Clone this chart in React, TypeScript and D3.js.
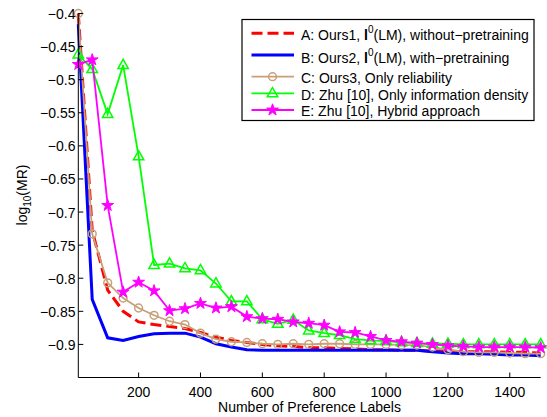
import React from "react";
import * as d3 from "d3";

const xs = [5, 50, 100, 150, 200, 250, 300, 350, 400, 450, 500, 550, 600, 650, 700, 750, 800, 850, 900, 950, 1000, 1050, 1100, 1150, 1200, 1250, 1300, 1350, 1400, 1450, 1500];

const seriesA = [-0.400, -0.728, -0.818, -0.850, -0.866, -0.870, -0.873, -0.876, -0.882, -0.889, -0.894, -0.897, -0.900, -0.902, -0.903, -0.905, -0.905, -0.906, -0.907, -0.908, -0.908, -0.909, -0.909, -0.910, -0.910, -0.911, -0.911, -0.911, -0.912, -0.912, -0.913];
const seriesB = [-0.416, -0.832, -0.890, -0.894, -0.888, -0.884, -0.883, -0.883, -0.889, -0.899, -0.904, -0.908, -0.909, -0.909, -0.909, -0.909, -0.909, -0.909, -0.909, -0.909, -0.909, -0.909, -0.909, -0.911, -0.913, -0.914, -0.914, -0.915, -0.916, -0.916, -0.917];
const seriesC = [-0.400, -0.733, -0.807, -0.830, -0.845, -0.856, -0.865, -0.870, -0.883, -0.892, -0.896, -0.897, -0.899, -0.900, -0.899, -0.900, -0.899, -0.899, -0.900, -0.900, -0.900, -0.901, -0.901, -0.904, -0.908, -0.911, -0.912, -0.912, -0.913, -0.914, -0.914];
const seriesD = [-0.462, -0.484, -0.552, -0.478, -0.616, -0.780, -0.778, -0.785, -0.788, -0.808, -0.835, -0.835, -0.862, -0.869, -0.863, -0.879, -0.883, -0.886, -0.892, -0.894, -0.895, -0.897, -0.898, -0.899, -0.899, -0.900, -0.900, -0.900, -0.900, -0.900, -0.900];
const seriesE = [-0.477, -0.470, -0.690, -0.821, -0.806, -0.819, -0.849, -0.846, -0.838, -0.845, -0.843, -0.858, -0.861, -0.862, -0.866, -0.868, -0.871, -0.881, -0.882, -0.888, -0.894, -0.896, -0.898, -0.900, -0.902, -0.903, -0.904, -0.904, -0.904, -0.904, -0.905];

const xTicks = [200, 400, 600, 800, 1000, 1200, 1400];
const yTicks = [-0.9, -0.85, -0.8, -0.75, -0.7, -0.65, -0.6, -0.55, -0.5, -0.45, -0.4];

const W = 547;
const H = 417;
const FONT = "'Liberation Sans', Arial, Helvetica, sans-serif";

const RED = "#ff0000";
const BLUE = "#0000ff";
const TAN = "#c8a078";
const GREEN = "#00ff00";
const MAGENTA = "#ff00ff";

function starPath(R: number) {
  const r = R * 0.382;
  const pts: string[] = [];
  for (let i = 0; i < 10; i++) {
    const rad = i % 2 === 0 ? R : r;
    const a = -Math.PI / 2 + (i * Math.PI) / 5;
    pts.push(`${(rad * Math.cos(a)).toFixed(2)},${(rad * Math.sin(a)).toFixed(2)}`);
  }
  return "M" + pts.join("L") + "Z";
}
const TRI = "M0,-5.8L5.2,3.4L-5.2,3.4Z";
const STAR = starPath(6.2);

export default function App() {
  const x = d3.scaleLinear().domain([5, 1500]).range([78.3, 540.7]);
  const y = d3.scaleLinear().domain([-0.95, -0.4]).range([377.5, 13.5]);
  const line = d3
    .line<number>()
    .x((_, i) => x(xs[i]))
    .y((d) => y(d));
  const fmt = (v: number) => d3.format(".2~f")(v).replace("-", "\u2212");

  const x0 = x.range()[0];
  const x1 = x.range()[1];
  const yb = y(-0.95);
  const yt = y(-0.4);

  const lgX0 = 251.5;
  const lgX1 = 294;
  const lgMid = 272.5;
  const rows = [33.3, 55, 76.7, 93.3, 110];
  const base = [40, 62.5, 82.5, 100, 116];

  return (
    <svg width={W} height={H} style={{ position: "absolute", left: 0, top: 0, background: "#fff" }} fontFamily={FONT}>
      <rect x={0} y={0} width={W} height={H} fill="#fff" />
      {/* series */}
      <path d={line(seriesA) || ""} fill="none" stroke={RED} strokeWidth={3} strokeDasharray="11,5" />
      <path d={line(seriesB) || ""} fill="none" stroke={BLUE} strokeWidth={3} />
      <path d={line(seriesC) || ""} fill="none" stroke={TAN} strokeWidth={1.8} />
      {seriesC.map((d, i) => (
        <circle key={"c" + i} cx={x(xs[i])} cy={y(d)} r={3.9} fill="none" stroke={TAN} strokeWidth={1.5} />
      ))}
      <path d={line(seriesD) || ""} fill="none" stroke={GREEN} strokeWidth={1.8} />
      {seriesD.map((d, i) => (
        <path key={"d" + i} d={TRI} transform={`translate(${x(xs[i])},${y(d)})`} fill="none" stroke={GREEN} strokeWidth={1.5} />
      ))}
      <path d={line(seriesE) || ""} fill="none" stroke={MAGENTA} strokeWidth={1.8} />
      {seriesE.map((d, i) => (
        <path key={"e" + i} d={STAR} transform={`translate(${x(xs[i])},${y(d)})`} fill={MAGENTA} stroke={MAGENTA} strokeWidth={1} />
      ))}

      {/* axes */}
      <line x1={x0} y1={yt} x2={x0} y2={yb} stroke="#000" strokeWidth={1} />
      <line x1={x0} y1={yb} x2={x1} y2={yb} stroke="#000" strokeWidth={1} />
      {xTicks.map((t) => (
        <g key={"xt" + t}>
          <line x1={x(t)} x2={x(t)} y1={yb} y2={yb - 5} stroke="#000" />
          <text x={x(t)} y={396.5} fontSize={14} textAnchor="middle" fill="#000">
            {t}
          </text>
        </g>
      ))}
      {yTicks.map((t) => (
        <g key={"yt" + t}>
          <line x1={x0} x2={x0 + 5} y1={y(t)} y2={y(t)} stroke="#000" />
          <text x={75.5} y={y(t) + 5.5} fontSize={14} textAnchor="end" fill="#000">
            {fmt(t)}
          </text>
        </g>
      ))}
      <text x={(x0 + x1) / 2} y={411.5} fontSize={14} textAnchor="middle" fill="#000">
        Number of Preference Labels
      </text>
      <text transform="translate(27,195) rotate(-90)" fontSize={14} textAnchor="middle" fill="#000">
        log
        <tspan fontSize={10} dy={4}>10</tspan>
        <tspan dy={-4}>(MR)</tspan>
      </text>

      {/* legend */}
      <rect x={242} y={19.5} width={292} height={101} fill="#fff" stroke="#000" strokeWidth={1.2} />
      <line x1={lgX0} x2={lgX1} y1={rows[0]} y2={rows[0]} stroke={RED} strokeWidth={3} strokeDasharray="11,5" />
      <line x1={lgX0} x2={lgX1} y1={rows[1]} y2={rows[1]} stroke={BLUE} strokeWidth={3} />
      <line x1={lgX0} x2={lgX1} y1={rows[2]} y2={rows[2]} stroke={TAN} strokeWidth={1.8} />
      <circle cx={lgMid} cy={rows[2]} r={3.9} fill="none" stroke={TAN} strokeWidth={1.5} />
      <line x1={lgX0} x2={lgX1} y1={rows[3]} y2={rows[3]} stroke={GREEN} strokeWidth={1.8} />
      <path d={TRI} transform={`translate(${lgMid},${rows[3]})`} fill="none" stroke={GREEN} strokeWidth={1.5} />
      <line x1={lgX0} x2={lgX1} y1={rows[4]} y2={rows[4]} stroke={MAGENTA} strokeWidth={1.8} />
      <path d={STAR} transform={`translate(${lgMid},${rows[4]})`} fill={MAGENTA} stroke={MAGENTA} strokeWidth={1} />

      <text x={301} y={base[0]} fontSize={14} fill="#000">
        A: Ours1, <tspan fontWeight="bold">l</tspan>
        <tspan fontSize={10} dy={-7}>0</tspan>
        <tspan dy={7}>(LM), without{"\u2212"}pretraining</tspan>
      </text>
      <text x={301} y={base[1]} fontSize={14} fill="#000">
        B: Ours2, <tspan fontWeight="bold">l</tspan>
        <tspan fontSize={10} dy={-7}>0</tspan>
        <tspan dy={7}>(LM), with{"\u2212"}pretraining</tspan>
      </text>
      <text x={301} y={base[2]} fontSize={14} fill="#000">
        C: Ours3, Only reliability
      </text>
      <text x={301} y={base[3]} fontSize={14} fill="#000">
        D: Zhu [10], Only information density
      </text>
      <text x={301} y={base[4]} fontSize={14} fill="#000">
        E: Zhu [10], Hybrid approach
      </text>
    </svg>
  );
}
